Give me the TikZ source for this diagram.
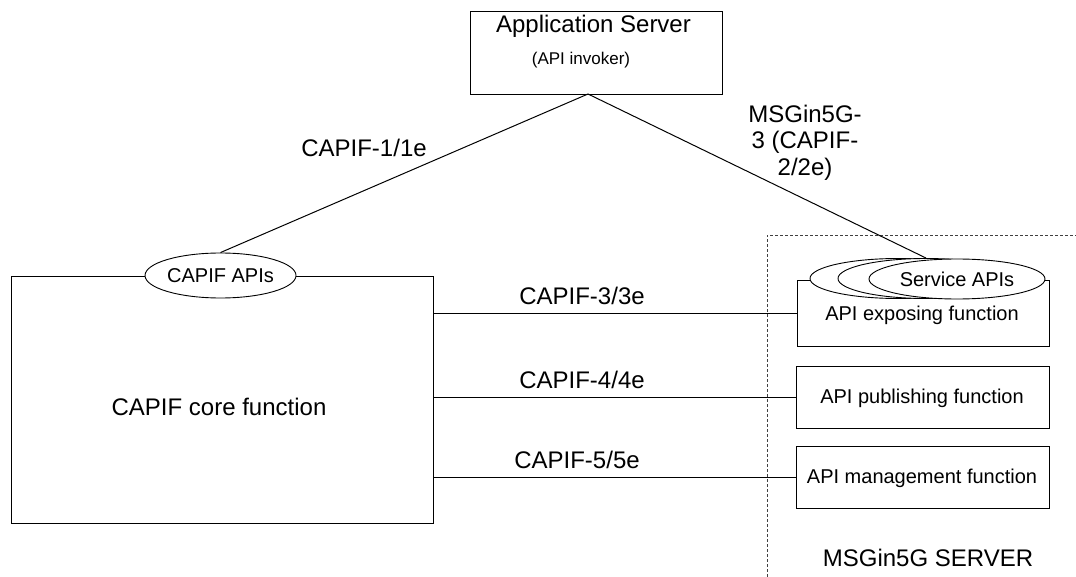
\documentclass[tikz,border=0pt]{standalone}
\usepackage{fontspec}
\setmainfont{Liberation Sans}
\usetikzlibrary{shapes.geometric}
\begin{document}
\begin{tikzpicture}[x=1pt,y=-1pt]
\tikzset{
 box/.style={draw, line width=0.9pt, inner sep=0pt, fill=white},
 oval/.style={draw, ellipse, line width=0.9pt, fill=white, inner sep=0pt},
 conn/.style={line width=1pt},
 frame/.style={draw=black!75, line width=0.7pt, dash pattern=on 3pt off 2pt},
 big/.style={font=\fontsize{24}{27}\selectfont},
 mid/.style={font=\fontsize{20}{24}\selectfont},
 small/.style={font=\fontsize{17}{20}\selectfont},
 txt/.style={inner sep=0pt, anchor=base},
}
\useasboundingbox (0,0) rectangle (1076,577);
% dashed MSGin5G server frame
\draw[frame] (767,577) |- (1076,235);
% application server
\node[box, minimum width=252pt, minimum height=83pt] (app) at (596,52.5) {};
\node[txt,big] (appt) at (593.5,33) {Application Server};
\node[txt,small] (appi) at (581,65) {(API invoker)};
% CAPIF core function
\node[box, minimum width=422pt, minimum height=247pt] (core) at (222,399.5) {};
\node[txt,big] (coret) at (219,415) {CAPIF core function};
\node[oval, minimum width=151pt, minimum height=45pt, mid] (capi) at (220.5,275.5) {CAPIF APIs};
% API exposing function
\node[box, minimum width=252pt, minimum height=66pt] (expo) at (923,313) {};
\node[txt,mid] (expot) at (922,320) {API exposing function};
\node[oval, minimum width=176pt, minimum height=40pt] (svc1) at (898,278.5) {};
\node[oval, minimum width=176pt, minimum height=40pt] (svc2) at (926,278.5) {};
\node[oval, minimum width=176pt, minimum height=40pt, mid] (svc3) at (957,279) {Service APIs};
% API publishing / management
\node[box, minimum width=253pt, minimum height=62pt] (pub) at (922.5,397) {};
\node[txt,mid] (pubt) at (922,403.3) {API publishing function};
\node[box, minimum width=253pt, minimum height=62pt] (mgmt) at (922.5,477) {};
\node[txt,mid] (mgmtt) at (922,483.3) {API management function};
\node[txt,big] (srv) at (928,566.5) {MSGin5G SERVER};
% connectors
\coordinate (apex) at (588,94);
\draw[conn] (capi.north) -- (apex) -- (svc2.north);
\draw[conn] (core.east |- expo.west) -- (expo.west);
\draw[conn] (core.east |- pub.west) -- (pub.west);
\draw[conn] (core.east |- mgmt.west) -- (mgmt.west);
% labels
\node[txt,big] (l1) at (364,157) {CAPIF-1/1e};
\node[big, inner sep=0pt, align=center, anchor=center] (l2) at (805,142.3) {MSGin5G-\\[-0.5pt]3 (CAPIF-\\[-0.5pt]2/2e)};
\node[txt,big] (l3) at (582,305) {CAPIF-3/3e};
\node[txt,big] (l4) at (582,388) {CAPIF-4/4e};
\node[txt,big] (l5) at (577,468) {CAPIF-5/5e};
\end{tikzpicture}
\end{document}
